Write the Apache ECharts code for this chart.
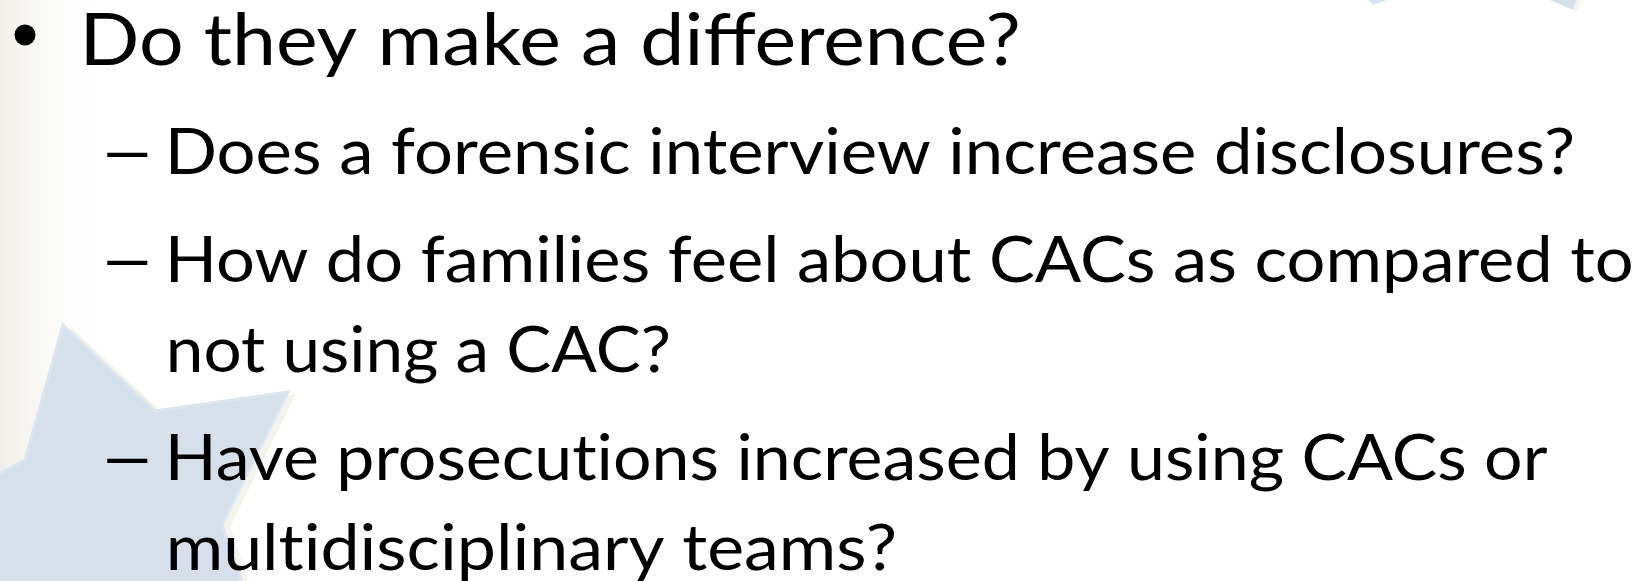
<!DOCTYPE html>
<html>
<head>
<meta charset="utf-8">
<script src="https://cdn.jsdelivr.net/npm/echarts@6/dist/echarts.min.js"></script>
<style>
  html, body { margin: 0; padding: 0; background: #fff; }
  #chart { width: 1645px; height: 581px; }
</style>
</head>
<body>
<div id="chart"></div>
<script>
// slide text, one entry per drawn line
const lineTexts = [
  'Do they make a difference?',
  'Does a forensic interview increase disclosures?',
  'How do families feel about CACs as compared to',
  'not using a CAC?',
  'Have prosecutions increased by using CACs or',
  'multidisciplinary teams?'
];
const lineMarkers = ['•', '–', '–', '', '–', ''];

// layout
const baselines = [65, 174, 282, 372, 480, 570];
const textLeft = [86, 170, 170, 170, 170, 170];
const textRight = [1018, 1572, 1631, 668, 1547, 894];
const capHeights = [53, 47, 47, 47, 47, 47];
const DASH_X = [106, 148];
const FONT = 'Lato';

const chart = echarts.init(document.getElementById('chart'));

const ctx = document.createElement('canvas').getContext('2d');
function measure(str, size, baseline) {
  ctx.font = size + 'px ' + FONT;
  ctx.textBaseline = baseline || 'alphabetic';
  return ctx.measureText(str);
}

const hRef = measure('H', 100);
const capRatio = (hRef.actualBoundingBoxAscent + hRef.actualBoundingBoxDescent) / 100;

// Lato joins "ti" into a ligature; the slide font does not, so break it with a ZWNJ
const noLig = s => s.replace(/t(?=i)/g, 't\u200C');

// text element whose ink spans x0..x1 with its baseline at y
function fitText(str, x0, x1, y, cap, z) {
  const size = cap / capRatio;
  const s = noLig(str);
  const m = measure(s, size);
  const inkW = m.actualBoundingBoxLeft + m.actualBoundingBoxRight;
  const sx = (x1 - x0) / inkW;
  const mid = measure('H', size, 'middle');
  return {
    type: 'text',
    x: x0 + m.actualBoundingBoxLeft * sx,
    y: y - mid.actualBoundingBoxDescent,
    scaleX: sx,
    z: z || 10,
    style: {
      text: s,
      fontFamily: FONT,
      fontSize: size,
      fill: '#000',
      align: 'left',
      verticalAlign: 'middle'
    }
  };
}

const star = [[63, 325], [155, 411], [288, 392], [222, 525], [262, 640], [-60, 640], [-60, 505], [25, 460]];
const shift = (pts, dx, dy) => pts.map(p => [p[0] + dx, p[1] + dy]);

const elements = [
  {
    type: 'rect', z: 1,
    shape: { x: 0, y: 0, width: 110, height: 581 },
    style: {
      fill: new echarts.graphic.LinearGradient(0, 0, 1, 0, [
        { offset: 0, color: '#f1efe9' },
        { offset: 1, color: 'rgba(255,255,255,0)' }
      ])
    }
  },
  { type: 'polygon', z: 2, shape: { points: shift(star, 8, 2) }, style: { fill: '#f4f3ec' } },
  { type: 'polygon', z: 3, shape: { points: star }, style: { fill: '#d6e0ea', stroke: '#dde6ef', lineWidth: 3 } },
  { type: 'polygon', z: 2, shape: { points: [[1368, 0], [1387, 0], [1373, 5]] }, style: { fill: '#dbe3ec' } },
  { type: 'polygon', z: 2, shape: { points: [[1550, 0], [1580, 0], [1578, 11]] }, style: { fill: '#f4f3ec' } },
  { type: 'polygon', z: 3, shape: { points: [[1550, 0], [1576, 0], [1573, 10]] }, style: { fill: '#d6e0ea' } }
];

lineTexts.forEach((t, i) => {
  elements.push(fitText(t, textLeft[i], textRight[i], baselines[i], capHeights[i]));
  if (lineMarkers[i] === '•') {
    elements.push({ type: 'circle', z: 10, shape: { cx: 25, cy: 35, r: 10.5 }, style: { fill: '#000' } });
  } else if (lineMarkers[i]) {
    elements.push(fitText(lineMarkers[i], DASH_X[0], DASH_X[1], baselines[i], capHeights[i]));
  }
});

chart.setOption({
  backgroundColor: '#fff',
  animation: false,
  graphic: { elements: elements }
});

window.addEventListener('resize', () => chart.resize());
</script>
</body>
</html>
